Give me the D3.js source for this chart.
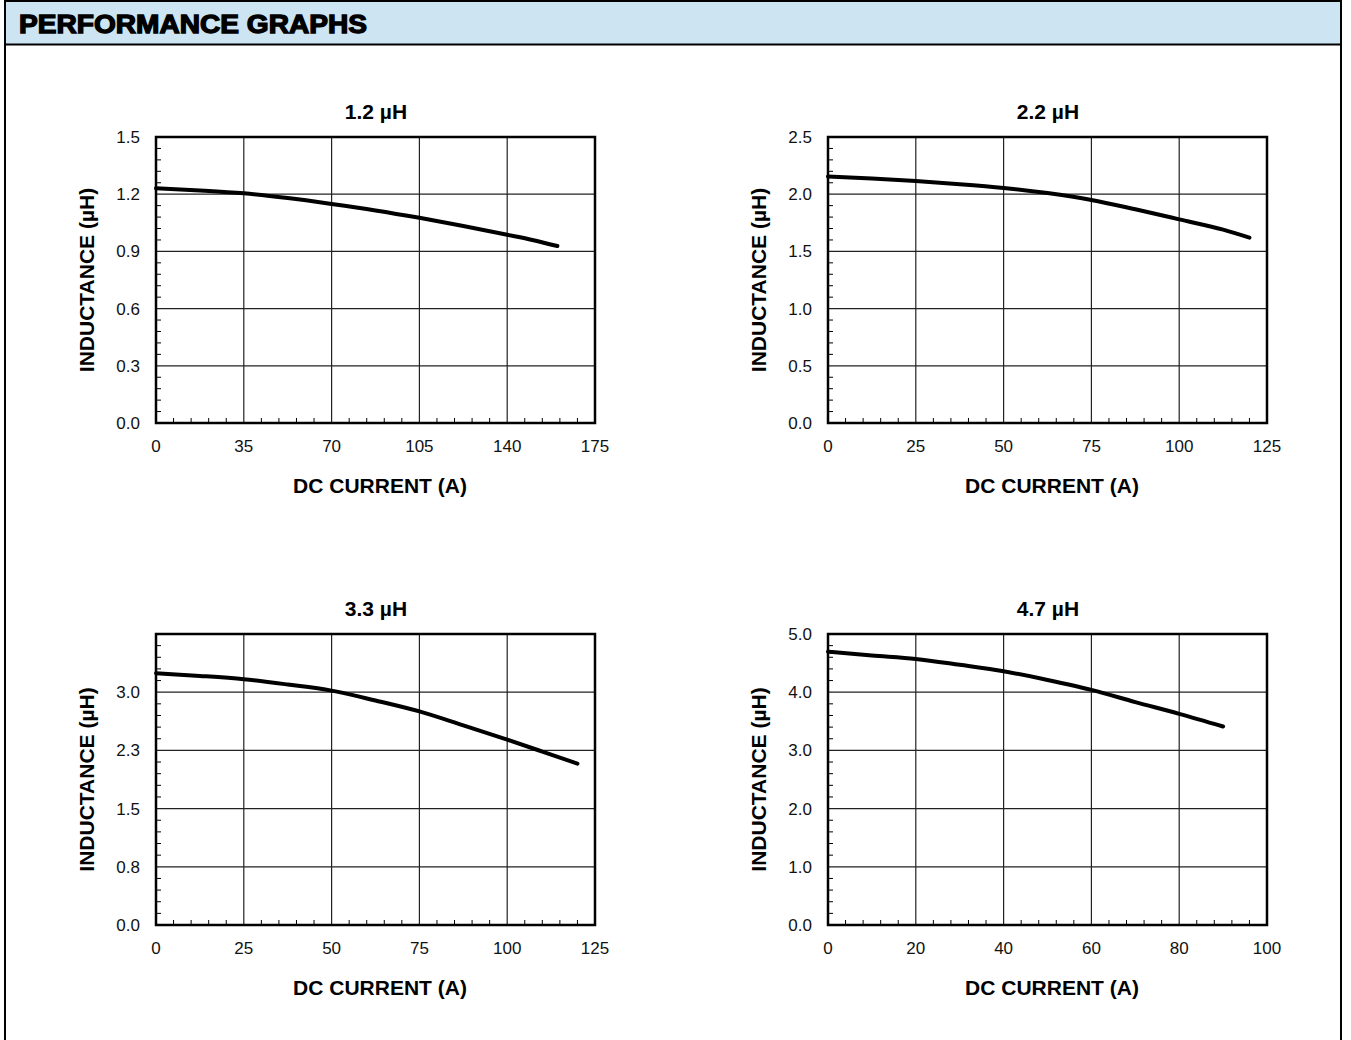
<!DOCTYPE html>
<html>
<head>
<meta charset="utf-8">
<script src="https://cdn.jsdelivr.net/npm/d3@7"></script>
<style>
  html, body { margin: 0; padding: 0; background: #fff; }
  svg { display: block; font-family: "Liberation Sans", Arial, Helvetica, sans-serif; }
</style>
</head>
<body>
<svg id="chart" width="1351" height="1040"></svg>
<script>
// ---- Data ----
const headerTitle = "PERFORMANCE GRAPHS";
const chartTitles = ["1.2 µH", "2.2 µH", "3.3 µH", "4.7 µH"];
const xAxisTitle = "DC CURRENT (A)";
const yAxisTitle = "INDUCTANCE (µH)";

// 1.2 µH
const current12 = [0, 17.5, 35, 52.5, 70, 87.5, 105, 122.5, 140, 150, 160];
const induct12  = [1.231, 1.220, 1.205, 1.180, 1.149, 1.115, 1.076, 1.033, 0.987, 0.960, 0.928];
const xTicks12 = [0, 35, 70, 105, 140, 175];
const yTicks12 = [0, 0.3, 0.6, 0.9, 1.2, 1.5];
const yTickLabels12 = ["0.0", "0.3", "0.6", "0.9", "1.2", "1.5"];

// 2.2 µH
const current22 = [0, 12.5, 25, 37.5, 50, 62.5, 75, 87.5, 100, 112.5, 120];
const induct22  = [2.155, 2.137, 2.115, 2.088, 2.055, 2.010, 1.950, 1.868, 1.780, 1.690, 1.620];
const xTicks22 = [0, 25, 50, 75, 100, 125];
const yTicks22 = [0, 0.5, 1.0, 1.5, 2.0, 2.5];
const yTickLabels22 = ["0.0", "0.5", "1.0", "1.5", "2.0", "2.5"];

// 3.3 µH
const current33 = [0, 12.5, 25, 37.5, 50, 62.5, 75, 87.5, 100, 110, 120];
const induct33  = [3.244, 3.210, 3.167, 3.099, 3.020, 2.893, 2.752, 2.572, 2.388, 2.235, 2.080];
const xTicks33 = [0, 25, 50, 75, 100, 125];
const yTicks33 = [0, 0.75, 1.5, 2.25, 3.0, 3.75];
const yTickLabels33 = ["0.0", "0.8", "1.5", "2.3", "3.0", ""];

// 4.7 µH
const current47 = [0, 10, 20, 30, 40, 50, 60, 70, 80, 90];
const induct47  = [4.696, 4.630, 4.571, 4.470, 4.360, 4.210, 4.040, 3.830, 3.628, 3.410];
const xTicks47 = [0, 20, 40, 60, 80, 100];
const yTicks47 = [0, 1, 2, 3, 4, 5];
const yTickLabels47 = ["0.0", "1.0", "2.0", "3.0", "4.0", "5.0"];

// ---- Layout ----
const panels = [
  { title: chartTitles[0], xs: current12, ys: induct12, xt: xTicks12, yt: yTicks12, yl: yTickLabels12, left: 156, top: 137, w: 439, h: 286 },
  { title: chartTitles[1], xs: current22, ys: induct22, xt: xTicks22, yt: yTicks22, yl: yTickLabels22, left: 828, top: 137, w: 439, h: 286 },
  { title: chartTitles[2], xs: current33, ys: induct33, xt: xTicks33, yt: yTicks33, yl: yTickLabels33, left: 156, top: 634, w: 439, h: 291 },
  { title: chartTitles[3], xs: current47, ys: induct47, xt: xTicks47, yt: yTicks47, yl: yTickLabels47, left: 828, top: 634, w: 439, h: 291 }
];

const svg = d3.select("#chart");

// Outer frame and header
svg.append("rect").attr("x", 5).attr("y", 1).attr("width", 1336).attr("height", 43)
  .attr("fill", "#cde4f2");
svg.append("line").attr("x1", 4).attr("x2", 1342).attr("y1", 1).attr("y2", 1).attr("stroke", "#000").attr("stroke-width", 2);
svg.append("line").attr("x1", 4).attr("x2", 1342).attr("y1", 44.5).attr("y2", 44.5).attr("stroke", "#000").attr("stroke-width", 2);
svg.append("line").attr("x1", 5).attr("x2", 5).attr("y1", 0).attr("y2", 1040).attr("stroke", "#000").attr("stroke-width", 2);
svg.append("line").attr("x1", 1341).attr("x2", 1341).attr("y1", 0).attr("y2", 1040).attr("stroke", "#000").attr("stroke-width", 2);
svg.append("text").attr("x", 19).attr("y", 33)
  .attr("font-size", 25).attr("font-weight", "bold")
  .attr("stroke", "#000").attr("stroke-width", 1.3)
  .attr("textLength", 348).attr("lengthAdjust", "spacingAndGlyphs")
  .attr("fill", "#000").text(headerTitle);

panels.forEach(p => {
  const g = svg.append("g").attr("transform", `translate(${p.left},${p.top})`);
  const x = d3.scaleLinear().domain([p.xt[0], p.xt[p.xt.length - 1]]).range([0, p.w]);
  const y = d3.scaleLinear().domain([p.yt[0], p.yt[p.yt.length - 1]]).range([p.h, 0]);

  // grid
  g.append("g").selectAll("line").data(p.xt.slice(1, -1)).join("line")
    .attr("x1", d => x(d)).attr("x2", d => x(d)).attr("y1", 0).attr("y2", p.h)
    .attr("stroke", "#222").attr("stroke-width", 1.2);
  g.append("g").selectAll("line").data(p.yt.slice(1, -1)).join("line")
    .attr("x1", 0).attr("x2", p.w).attr("y1", d => y(d)).attr("y2", d => y(d))
    .attr("stroke", "#222").attr("stroke-width", 1.2);

  // minor ticks (inside, left and bottom)
  const xMinor = [], yMinor = [];
  for (let i = 0; i < p.xt.length - 1; i++) {
    const s = (p.xt[i + 1] - p.xt[i]) / 5;
    for (let k = 1; k < 5; k++) xMinor.push(p.xt[i] + s * k);
  }
  for (let i = 0; i < p.yt.length - 1; i++) {
    const s = (p.yt[i + 1] - p.yt[i]) / 5;
    for (let k = 1; k < 5; k++) yMinor.push(p.yt[i] + s * k);
  }
  g.append("g").selectAll("line").data(xMinor).join("line")
    .attr("x1", d => x(d)).attr("x2", d => x(d)).attr("y1", p.h).attr("y2", p.h - 5)
    .attr("stroke", "#000").attr("stroke-width", 1);
  g.append("g").selectAll("line").data(yMinor).join("line")
    .attr("x1", 0).attr("x2", 5).attr("y1", d => y(d)).attr("y2", d => y(d))
    .attr("stroke", "#000").attr("stroke-width", 1);

  // frame
  g.append("rect").attr("x", 0).attr("y", 0).attr("width", p.w).attr("height", p.h)
    .attr("fill", "none").attr("stroke", "#000").attr("stroke-width", 2.5);

  // tick labels
  g.append("g").selectAll("text").data(p.xt).join("text")
    .attr("x", d => x(d)).attr("y", p.h + 29).attr("text-anchor", "middle")
    .attr("font-size", 17).attr("fill", "#111").text(d => d);
  g.append("g").selectAll("text").data(p.yt).join("text")
    .attr("x", -16).attr("y", d => y(d) + 6).attr("text-anchor", "end")
    .attr("font-size", 17).attr("fill", "#111").text((d, i) => p.yl[i]);

  // curve
  const pts = p.xs.map((v, i) => [v, p.ys[i]]);
  g.append("path").datum(pts)
    .attr("d", d3.line().x(d => x(d[0])).y(d => y(d[1])).curve(d3.curveMonotoneX))
    .attr("fill", "none").attr("stroke", "#000").attr("stroke-width", 4)
    .attr("stroke-linecap", "round");

  // titles
  g.append("text").attr("x", p.w / 2 + 0.5).attr("y", -18.5).attr("text-anchor", "middle")
    .attr("font-size", 21).attr("font-weight", "bold").attr("fill", "#000").text(p.title);
  g.append("text").attr("x", p.w / 2 + 4.5).attr("y", p.h + 70).attr("text-anchor", "middle")
    .attr("font-size", 21).attr("font-weight", "bold").attr("fill", "#000").text(xAxisTitle);
  g.append("text").attr("transform", `translate(-62.5,${p.h / 2}) rotate(-90)`)
    .attr("text-anchor", "middle")
    .attr("font-size", 21).attr("font-weight", "bold").attr("fill", "#000").text(yAxisTitle);
});
</script>
</body>
</html>
